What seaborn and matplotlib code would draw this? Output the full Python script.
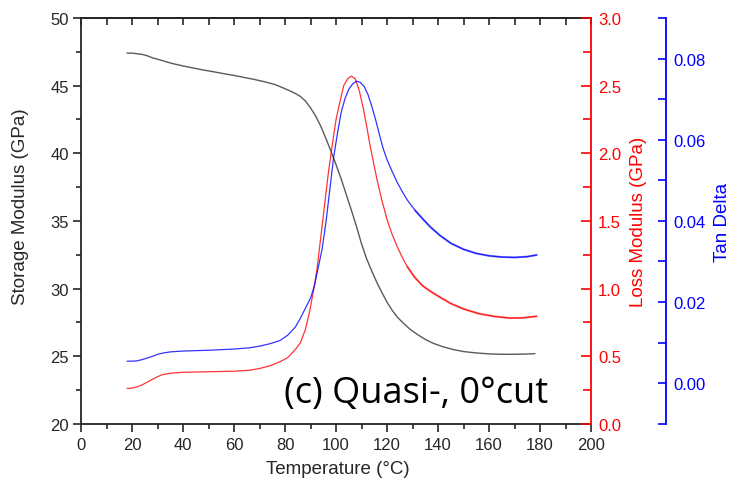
import matplotlib
matplotlib.use("Agg")
import matplotlib.pyplot as plt
from matplotlib.ticker import MultipleLocator, FormatStrFormatter
import seaborn as sns
import pandas as pd

# Storage modulus (GPa) vs temperature (°C)
temp_storage = [18, 20, 22, 24, 26, 28, 30, 33, 36, 40, 44, 48, 52, 56, 60, 64, 68, 72,
                76, 79, 82, 84, 86, 88, 90, 92, 94, 96, 98, 100, 102, 104, 106, 108,
                110, 112, 114, 116, 118, 120, 122, 124, 126.4, 129, 132, 135, 138, 142,
                146, 150, 155, 160, 165, 170, 175, 178]
storage = [47.4, 47.4, 47.35, 47.3, 47.2, 47.05, 46.95, 46.78, 46.62, 46.45, 46.3, 46.15,
           46.02, 45.88, 45.75, 45.6, 45.45, 45.28, 45.08, 44.85, 44.6, 44.42, 44.2,
           43.85, 43.35, 42.75, 42.0, 41.1, 40.15, 39.15, 38.1, 36.95, 35.8, 34.6, 33.3,
           32.2, 31.3, 30.45, 29.7, 29.0, 28.4, 27.9, 27.45, 27.0, 26.6, 26.25, 25.97,
           25.7, 25.5, 25.35, 25.25, 25.18, 25.15, 25.15, 25.17, 25.2]

# Loss modulus (GPa)
temp_loss = [18, 20, 22, 24, 26, 28, 30, 32, 35, 40, 50, 60, 66, 70, 74, 78, 81, 84, 86,
             88, 89.5, 91, 92.5, 94, 95.5, 97, 98.5, 100, 101.5, 103, 104.5, 106, 107.5,
             109, 110.7, 112, 113.3, 114.7, 116, 118, 120, 122, 124, 126, 128, 131, 134,
             137, 140.8, 145, 150, 156, 162, 168, 173, 178.7]
loss = [0.263, 0.265, 0.275, 0.29, 0.31, 0.33, 0.35, 0.365, 0.375, 0.382, 0.386, 0.39,
        0.397, 0.41, 0.43, 0.46, 0.49, 0.55, 0.6, 0.7, 0.82, 0.97, 1.14, 1.38, 1.62,
        1.86, 2.06, 2.25, 2.38, 2.5, 2.55, 2.57, 2.55, 2.47, 2.33, 2.2, 2.06, 1.93, 1.81,
        1.65, 1.51, 1.4, 1.31, 1.23, 1.16, 1.08, 1.02, 0.98, 0.936, 0.89, 0.85, 0.815,
        0.795, 0.783, 0.784, 0.796]

# Tan delta
temp_tan = [18, 20, 22, 24, 26, 28, 30, 32, 35, 40, 50, 60, 66, 70, 74, 78, 81, 84, 86,
            88, 90, 91.5, 93, 94.5, 96, 97.5, 99, 100.5, 102, 103.5, 105, 106.5, 108,
            109.5, 111, 112.5, 114, 115.5, 117, 118.5, 120, 122, 124, 126, 128, 131, 134,
            137, 140.8, 145, 150, 155, 160, 165, 170, 175, 178.7]
tan_delta = [0.0054, 0.0054, 0.0055, 0.0058, 0.0062, 0.0066, 0.0071, 0.0074, 0.0077,
             0.0079, 0.0081, 0.0084, 0.0087, 0.0091, 0.0097, 0.0105, 0.0118, 0.0138,
             0.016, 0.0185, 0.021, 0.024, 0.0285, 0.033, 0.0395, 0.0475, 0.0555, 0.0615,
             0.0668, 0.0702, 0.0725, 0.0738, 0.0745, 0.0742, 0.0732, 0.0712, 0.0683,
             0.065, 0.0613, 0.0578, 0.0551, 0.0522, 0.0495, 0.0472, 0.0451, 0.0426,
             0.0405, 0.0385, 0.0364, 0.0345, 0.033, 0.032, 0.0314, 0.0311, 0.031, 0.0312,
             0.0316]

sns.set_style("ticks")
plt.rcParams["font.family"] = ["Liberation Sans", "DejaVu Sans"]

TXT = "#262626"
RED = "#ff0000"
BLUE = "#0000ff"
GRAY = "#5a5a5a"

fig = plt.figure(figsize=(7.31, 4.85), dpi=100)
ax = fig.add_axes([0.111, 0.1237, 0.6975, 0.8373])
ax2 = ax.twinx()
ax3 = ax.twinx()

df_s = pd.DataFrame({"T": temp_storage, "v": storage})
df_l = pd.DataFrame({"T": temp_loss, "v": loss})
df_t = pd.DataFrame({"T": temp_tan, "v": tan_delta})

sns.lineplot(data=df_s, x="T", y="v", ax=ax, color=GRAY, lw=1.0, sort=False)
sns.lineplot(data=df_l, x="T", y="v", ax=ax2, color=RED, lw=0.9, alpha=0.8, sort=False)
sns.lineplot(data=df_t, x="T", y="v", ax=ax3, color=BLUE, lw=0.9, alpha=0.8, sort=False)
# the high-temperature tails of the loss and tan delta signals are noisier
sns.lineplot(data=df_l[df_l["T"] >= 128], x="T", y="v", ax=ax2, color=RED, lw=1.5,
             alpha=0.45, sort=False)
sns.lineplot(data=df_t[df_t["T"] >= 131], x="T", y="v", ax=ax3, color=BLUE, lw=1.5,
             alpha=0.45, sort=False)

# main (left / bottom) axis
ax.set_xlim(0, 200)
ax.set_ylim(20, 50)
ax.xaxis.set_major_locator(MultipleLocator(20))
ax.xaxis.set_minor_locator(MultipleLocator(10))
ax.yaxis.set_major_locator(MultipleLocator(5))
ax.yaxis.set_minor_locator(MultipleLocator(2.5))
ax.tick_params(which="major", direction="out", length=6, width=1.2, colors=TXT,
               labelsize=12, pad=3)
ax.tick_params(which="minor", direction="out", length=3.5, width=1.2, colors=TXT)
ax.set_xlabel("")
ax.set_ylabel("")
for side in ("left", "bottom", "top"):
    ax.spines[side].set_color(TXT)
    ax.spines[side].set_linewidth(1.3)
ax.spines["right"].set_visible(False)

top = ax.secondary_xaxis("top")
top.xaxis.set_major_locator(MultipleLocator(20))
top.xaxis.set_minor_locator(MultipleLocator(10))
top.tick_params(which="both", direction="in", length=5, width=1.2, colors=TXT,
                labeltop=False)
top.spines["top"].set_color(TXT)
top.spines["top"].set_linewidth(1.3)

# loss modulus axis (red)
ax2.set_ylim(0, 3.0)
ax2.yaxis.set_major_locator(MultipleLocator(0.5))
ax2.yaxis.set_minor_locator(MultipleLocator(0.25))
ax2.yaxis.set_major_formatter(FormatStrFormatter("%.1f"))
ax2.tick_params(axis="y", which="major", direction="in", length=7, width=1.2,
                colors=RED, labelsize=12, pad=5)
ax2.tick_params(axis="y", which="minor", direction="in", length=6, width=1.2, colors=RED)
ax2.set_ylabel("")
ax2.set_xlabel("")
for side in ("left", "top", "bottom"):
    ax2.spines[side].set_visible(False)
ax2.spines["right"].set_color(RED)
ax2.spines["right"].set_linewidth(1.3)

# tan delta axis (blue)
ax3.set_ylim(-0.0101, 0.0901)
ax3.spines["right"].set_position(("axes", 1.147))
ax3.yaxis.set_major_locator(MultipleLocator(0.02))
ax3.yaxis.set_minor_locator(MultipleLocator(0.01))
ax3.yaxis.set_major_formatter(FormatStrFormatter("%.2f"))
ax3.tick_params(axis="y", which="major", direction="in", length=6, width=1.2,
                colors=BLUE, labelsize=12, pad=5)
ax3.tick_params(axis="y", which="minor", direction="in", length=6, width=1.2, colors=BLUE)
ax3.set_ylabel("")
ax3.set_xlabel("")
for side in ("left", "top", "bottom"):
    ax3.spines[side].set_visible(False)
ax3.spines["right"].set_color(BLUE)
ax3.spines["right"].set_linewidth(1.3)

# axis titles
fig.text(0.0274, 0.573, "Storage Modulus (GPa)", rotation=90, fontsize=13.5,
         color=TXT, ha="center", va="center")
fig.text(0.873, 0.542, "Loss Modulus (GPa)", rotation=90, fontsize=13.5,
         color=RED, ha="center", va="center")
fig.text(0.988, 0.542, "Tan Delta", rotation=90, fontsize=13.5,
         color=BLUE, ha="center", va="center")
fig.text(0.462, 0.031, "Temperature (°C)", fontsize=13.5, color=TXT,
         ha="center", va="center")

fig.text(0.388, 0.169, "(c) Quasi-, 0°cut", fontsize=26, color="black",
         family=["Open Sans", "DejaVu Sans"], va="baseline", ha="left")

fig.savefig("out.png", dpi=100)
